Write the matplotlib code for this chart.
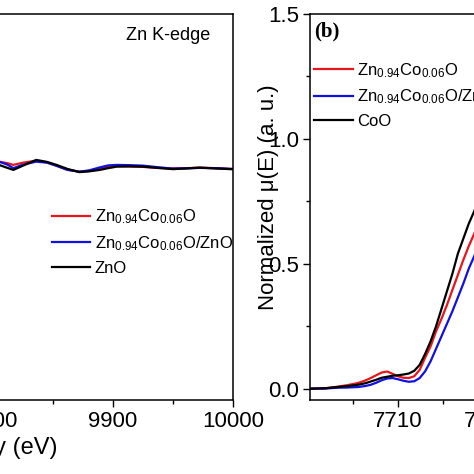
import matplotlib
matplotlib.use("Agg")
import matplotlib.pyplot as plt
from matplotlib.ticker import MultipleLocator

plt.rcParams['font.family'] = ['Liberation Sans', 'DejaVu Sans']
plt.rcParams['mathtext.fontset'] = 'custom'
plt.rcParams['mathtext.rm'] = 'Liberation Sans'
plt.rcParams['mathtext.default'] = 'regular'

# (a) Zn K-edge, EXAFS tail region
zn_energy = [9790, 9805, 9812, 9817, 9825, 9836, 9845, 9853, 9862, 9872, 9880, 9889,
             9896, 9903, 9914, 9925, 9937, 9950, 9961, 9972, 9985, 9998, 10010]
zn_doped = [0.905, 0.909, 0.903, 0.896, 0.905, 0.913, 0.906, 0.893, 0.877, 0.869, 0.872, 0.882,
            0.889, 0.892, 0.890, 0.888, 0.884, 0.882, 0.883, 0.885, 0.883, 0.880, 0.879]
zn_doped_zno = [0.905, 0.909, 0.897, 0.883, 0.897, 0.909, 0.905, 0.892, 0.876, 0.869, 0.874, 0.886,
                0.894, 0.896, 0.895, 0.893, 0.887, 0.881, 0.882, 0.884, 0.883, 0.880, 0.879]
zn_ref = [0.900, 0.896, 0.884, 0.876, 0.893, 0.916, 0.908, 0.896, 0.880, 0.867, 0.870, 0.876,
          0.883, 0.889, 0.890, 0.889, 0.884, 0.879, 0.882, 0.885, 0.882, 0.879, 0.878]

# (b) Co K-edge, pre-edge / edge region
co_energy = [7700, 7702, 7703.3, 7704.5, 7705.6, 7706.4, 7707.0, 7707.6, 7708.2,
             7708.8, 7709.4, 7710.0, 7710.6, 7711.2, 7711.8, 7712.4, 7713.0, 7713.6,
             7714.2, 7714.8, 7715.4, 7716.0, 7716.6, 7717.2, 7717.8, 7718.4, 7719.0]
co_doped = [0.000, 0.002, 0.008, 0.015, 0.023, 0.033, 0.043, 0.054, 0.065,
            0.069, 0.060, 0.050, 0.044, 0.043, 0.050, 0.076, 0.125, 0.170,
            0.230, 0.280, 0.335, 0.395, 0.455, 0.515, 0.570, 0.620, 0.670]
co_doped_zno = [0.000, 0.001, 0.004, 0.005, 0.007, 0.011, 0.016, 0.024, 0.034,
                0.041, 0.043, 0.038, 0.032, 0.028, 0.030, 0.043, 0.070, 0.110,
                0.160, 0.210, 0.260, 0.310, 0.365, 0.420, 0.480, 0.530, 0.580]
co_ref = [0.000, 0.002, 0.007, 0.011, 0.016, 0.022, 0.029, 0.036, 0.044,
          0.048, 0.052, 0.054, 0.057, 0.061, 0.072, 0.096, 0.140, 0.190,
          0.250, 0.320, 0.390, 0.460, 0.540, 0.600, 0.660, 0.710, 0.760]

labels_a = ['Zn$_{0.94}$Co$_{0.06}$O', 'Zn$_{0.94}$Co$_{0.06}$O/ZnO', 'ZnO']
labels_b = ['Zn$_{0.94}$Co$_{0.06}$O', 'Zn$_{0.94}$Co$_{0.06}$O/ZnO', 'CoO']
colors = ['#e8161c', '#1010e0', 'black']

W = 474.0


def pos(x0, x1, y_top, y_bot):
    return [x0 / W, 1 - y_bot / W, (x1 - x0) / W, (y_bot - y_top) / W]


fig = plt.figure(figsize=(4.74, 4.74), dpi=100)
ax1 = fig.add_axes(pos(-235, 233, 14, 400))
ax2 = fig.add_axes(pos(310, 670, 14, 400))

for ax in (ax1, ax2):
    for s in ax.spines.values():
        s.set_linewidth(1.1)
    ax.tick_params(which='major', direction='out', length=5, width=1.0,
                   labelsize=16, pad=3)
    ax.tick_params(which='minor', direction='out', length=3, width=1.0)
    ax.tick_params(top=False, right=False)
    ax.set_ylim(-0.045, 1.5)
    ax.yaxis.set_major_locator(MultipleLocator(0.5))
    ax.yaxis.set_minor_locator(MultipleLocator(0.25))

# panel (a)
for y, c, lab in zip([zn_doped, zn_doped_zno, zn_ref], colors, labels_a):
    ax1.plot(zn_energy, y, color=c, lw=1.6, label=lab)
ax1.set_xlim(9610, 10000)
ax1.xaxis.set_major_locator(MultipleLocator(100))
ax1.xaxis.set_minor_locator(MultipleLocator(50))
ax1.set_xlabel('Energy (eV)', fontsize=17)
ax1.xaxis.set_label_coords(0.489, -0.096)
ax1.text(0.862, 0.945, 'Zn K-edge', transform=ax1.transAxes, fontsize=13,
         ha='center', va='center')
ax1.legend(loc='upper left', bbox_to_anchor=(0.6136, 0.4985), frameon=False,
           fontsize=12, handlelength=2.3, handletextpad=0.25, labelspacing=0.47,
           borderpad=0, borderaxespad=0)

# panel (b)
for y, c, lab in zip([co_doped, co_doped_zno, co_ref], colors, labels_b):
    ax2.plot(co_energy, y, color=c, lw=1.6, label=lab)
ax2.set_xlim(7700.3, 7740)
ax2.xaxis.set_major_locator(MultipleLocator(10))
ax2.xaxis.set_minor_locator(MultipleLocator(5))
ax2.set_ylabel('Normalized \u03bc(E) (a. u.)', fontsize=16)
ax2.yaxis.set_label_coords(-0.086, 0.526)
ax2.text(0.012, 0.955, '(b)', transform=ax2.transAxes, fontsize=15,
         fontweight='bold', family='Liberation Serif', ha='left', va='center')
ax2.legend(loc='upper left', bbox_to_anchor=(0.012, 0.878), frameon=False,
           fontsize=12, handlelength=2.3, handletextpad=0.25, labelspacing=0.47,
           borderpad=0, borderaxespad=0)

fig.savefig('out.png', dpi=100)
